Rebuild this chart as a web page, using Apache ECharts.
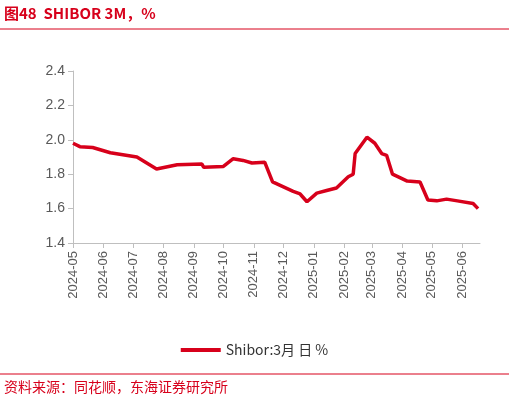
<!DOCTYPE html>
<html><head><meta charset="utf-8">
<script src="https://cdn.jsdelivr.net/npm/echarts@6/dist/echarts.min.js"></script>
<style>html,body{margin:0;padding:0;background:#fff}#c{width:509px;height:407px}</style>
</head><body><div id="c"></div>
<script>
let dates = ['2024-05-01','2024-05-08','2024-05-21','2024-06-08','2024-07-05','2024-07-25','2024-08-15','2024-09-09','2024-09-11','2024-10-01','2024-10-11','2024-10-21','2024-10-30','2024-11-12','2024-11-20','2024-12-11','2024-12-18','2024-12-25','2025-01-04','2025-01-14','2025-01-24','2025-02-05','2025-02-10','2025-02-12','2025-02-24','2025-03-04','2025-03-11','2025-03-16','2025-03-22','2025-04-06','2025-04-19','2025-04-27','2025-05-06','2025-05-16','2025-05-27','2025-06-12','2025-06-17'];
let shibor = [1.98,1.96,1.955,1.925,1.90,1.83,1.855,1.86,1.84,1.845,1.89,1.88,1.865,1.87,1.755,1.70,1.685,1.64,1.69,1.705,1.72,1.785,1.80,1.92,2.015,1.98,1.92,1.91,1.80,1.76,1.755,1.65,1.645,1.655,1.645,1.63,1.60];
let monthTicks = ['2024-05','2024-06','2024-07','2024-08','2024-09','2024-10','2024-11','2024-12','2025-01','2025-02','2025-03','2025-04','2025-05','2025-06'];

let chart = echarts.init(document.getElementById('c'));
let toMs = s => Date.UTC(+s.slice(0, 4), +s.slice(5, 7) - 1, s.length > 7 ? +s.slice(8, 10) : 1);
let tickMs = monthTicks.map(toMs);
let option = {
  graphic: [
    { type: 'text', left: 4, top: 6, style: { text: '图48  SHIBOR 3M，%', fill: '#d7001b', font: 'bold 15px "Noto Sans CJK SC", sans-serif' } },
    { type: 'line', shape: { x1: 0, y1: 29, x2: 509, y2: 29 }, style: { stroke: '#d7001b', lineWidth: 1 } },
    { type: 'line', shape: { x1: 0, y1: 374, x2: 509, y2: 374 }, style: { stroke: '#d7001b', lineWidth: 1 } },
    { type: 'text', left: 4, top: 380, style: { text: '资料来源：同花顺，东海证券研究所', fill: '#d7001b', font: '14px "Noto Sans CJK SC", sans-serif' } }
  ],
  grid: { left: 73, right: 29, top: 71, bottom: 164 },
  legend: {
    bottom: 45, left: 'center', icon: 'rect', itemWidth: 40, itemHeight: 4,
    textStyle: { color: '#333', fontSize: 14, fontFamily: '"Noto Sans CJK SC", sans-serif' },
    data: ['Shibor:3月 日 %']
  },
  xAxis: {
    type: 'value',
    min: tickMs[0],
    max: toMs('2025-06-19'),
    axisLine: { lineStyle: { color: '#bfbfbf' } },
    axisTick: { show: true, customValues: tickMs, lineStyle: { color: '#bfbfbf' } },
    axisLabel: {
      customValues: tickMs, rotate: 90, color: '#595959', fontSize: 13,
      fontFamily: 'Arial, "Liberation Sans", sans-serif',
      formatter: v => monthTicks[tickMs.indexOf(v)] || ''
    },
    splitLine: { show: false }
  },
  yAxis: {
    type: 'value', min: 1.4, max: 2.4, interval: 0.2,
    axisLine: { show: true, lineStyle: { color: '#bfbfbf' } },
    axisTick: { show: true, lineStyle: { color: '#bfbfbf' } },
    axisLabel: { color: '#595959', fontSize: 14, formatter: v => v.toFixed(1), fontFamily: 'Arial, "Liberation Sans", sans-serif' },
    splitLine: { show: false }
  },
  series: [{
    name: 'Shibor:3月 日 %', type: 'line', showSymbol: false,
    data: dates.map((d, i) => [toMs(d), shibor[i]]),
    lineStyle: { color: '#d7001b', width: 3.5 }, itemStyle: { color: '#d7001b' }
  }]
};
chart.setOption(option);
</script></body></html>
